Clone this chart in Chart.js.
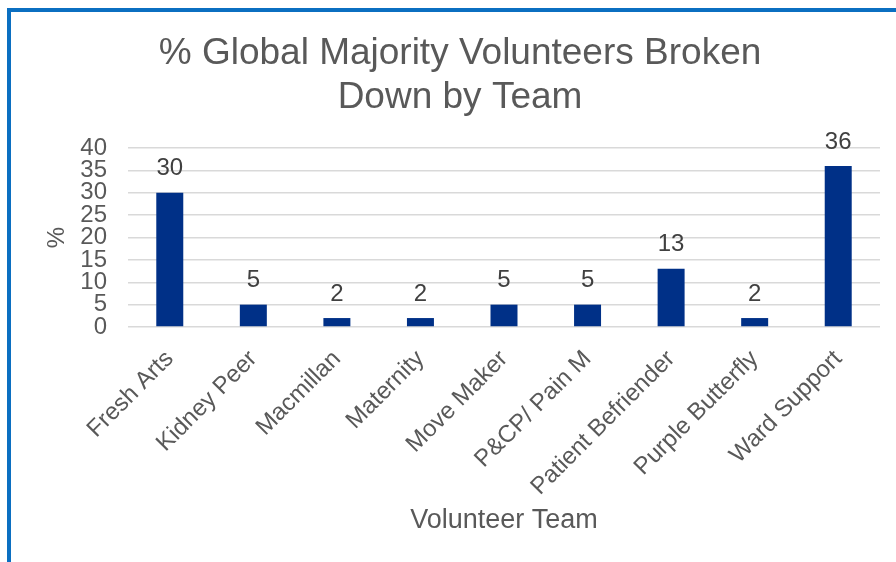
<!DOCTYPE html>
<html>
<head>
<meta charset="utf-8">
<script src="https://cdn.jsdelivr.net/npm/chart.js@4.4.0/dist/chart.umd.min.js"></script>
<style>
  html, body { margin: 0; padding: 0; background: #fff; }
  #wrap { position: relative; width: 896px; height: 562px; overflow: hidden; }
  #frame { position: absolute; left: 7px; top: 8px; width: 1000px; height: 700px;
           border-left: 4px solid #0B6FC1; border-top: 4px solid #0B6FC1; }
  #chart_team { position: absolute; left: 0; top: 0; }
</style>
</head>
<body>
<div id="wrap">
  <div id="frame"></div>
  <canvas id="chart_team" width="896" height="562"></canvas>
</div>
<script>
var teams = ['Fresh Arts', 'Kidney Peer', 'Macmillan', 'Maternity', 'Move Maker',
             'P&CP/ Pain M', 'Patient Befriender', 'Purple Butterfly', 'Ward Support'];
var percents = [30, 5, 2, 2, 5, 5, 13, 2, 36];
var yTicks = [0, 5, 10, 15, 20, 25, 30, 35, 40];

var fontName = "'Liberation Sans', Arial, sans-serif";
var grey = '#595959';

// value above each bar
var barValues = {
  id: 'barValues',
  afterDatasetsDraw: function(chart) {
    var ctx = chart.ctx;
    var meta = chart.getDatasetMeta(0);
    ctx.save();
    ctx.font = '24px ' + fontName;
    ctx.fillStyle = '#404040';
    ctx.textAlign = 'center';
    ctx.textBaseline = 'middle';
    meta.data.forEach(function(bar, i) {
      ctx.fillText(String(percents[i]), bar.x, bar.y - 24);
    });
    ctx.restore();
  }
};

var ctx = document.getElementById('chart_team').getContext('2d');
var chart = new Chart(ctx, {
  type: 'bar',
  data: {
    labels: teams,
    datasets: [{
      data: percents,
      backgroundColor: '#003087',
      barPercentage: 1,
      categoryPercentage: 0.323
    }]
  },
  options: {
    responsive: false,
    animation: false,
    layout: { padding: { left: 40, right: 16, top: 0, bottom: 0 } },
    plugins: {
      legend: { display: false },
      tooltip: { enabled: false },
      title: {
        display: true,
        text: ['% Global Majority Volunteers Broken', 'Down by Team'],
        color: grey,
        font: { family: fontName, size: 37, weight: 'normal', lineHeight: 1.19 },
        padding: { top: 32, bottom: 28 }
      }
    },
    scales: {
      x: {
        grid: { display: false, drawTicks: false },
        border: { display: false },
        ticks: {
          color: grey,
          font: { family: fontName, size: 24 },
          minRotation: 45,
          maxRotation: 45,
          padding: 18,
          autoSkip: false
        },
        title: {
          display: true,
          text: 'Volunteer Team',
          color: grey,
          font: { family: fontName, size: 27 },
          padding: { top: 0, bottom: 25 }
        },
        afterFit: function(scale) { scale.height = 235; }
      },
      y: {
        min: 0,
        max: 40,
        afterBuildTicks: function(scale) {
          scale.ticks = yTicks.map(function(v) { return { value: v }; });
        },
        grid: { color: '#D9D9D9', lineWidth: 1.5, drawTicks: false },
        border: { display: false },
        ticks: {
          color: grey,
          font: { family: fontName, size: 24, lineHeight: 0.9 },
          padding: 21,
          autoSkip: false
        },
        title: {
          display: true,
          text: '%',
          color: grey,
          font: { family: fontName, size: 24 },
          padding: { top: 3, bottom: 0 }
        },
        afterFit: function(scale) { scale.width = 88; }
      }
    }
  },
  plugins: [barValues]
});
</script>
</body>
</html>
